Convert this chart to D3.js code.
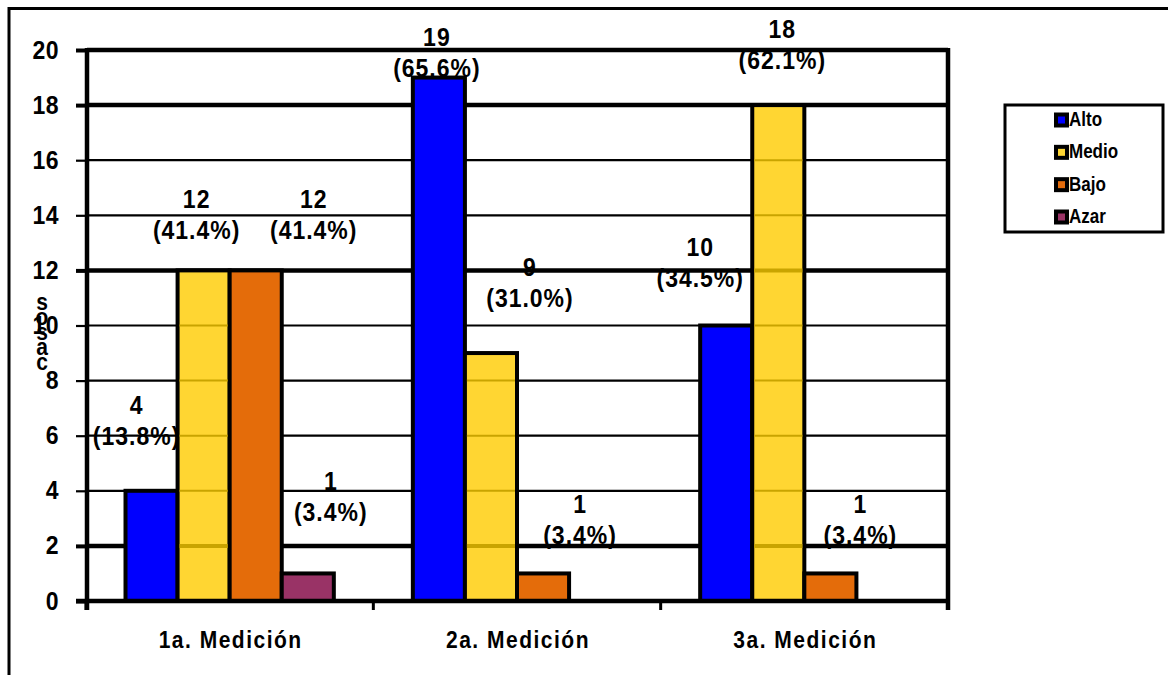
<!DOCTYPE html>
<html>
<head>
<meta charset="utf-8">
<script src="https://cdn.jsdelivr.net/npm/d3@7/dist/d3.min.js"></script>
<style>
  html, body { margin: 0; padding: 0; background: #fff; }
  svg { display: block; font-family: "Liberation Sans", Arial, sans-serif; font-weight: bold; }
</style>
</head>
<body>
<svg id="chart" width="1168" height="675"></svg>
<script>
// ---- data ----
const groups = ["1a. Medición", "2a. Medición", "3a. Medición"];
const seriesNames = ["Alto", "Medio", "Bajo", "Azar"];
const alto  = [4, 19, 10];
const medio = [12, 9, 18];
const bajo  = [12, 1, 1];
const azar  = [1, 0, 0];
const pctAlto  = ["(13.8%)", "(65.6%)", "(34.5%)"];
const pctMedio = ["(41.4%)", "(31.0%)", "(62.1%)"];
const pctBajo  = ["(41.4%)", "(3.4%)", "(3.4%)"];
const pctAzar  = ["(3.4%)", "", ""];
const yTicks = [0, 2, 4, 6, 8, 10, 12, 14, 16, 18, 20];
const yTitle = "casos";

// ---- style ----
const colors = { Alto: "#0000FF", Medio: "#FFD632", Bajo: "#E46C0A", Azar: "#993366" };
const thickGrid = new Set([20, 18, 12, 2]);
// label nudges (px) relative to bar centre / bar top, per series per group
const labelNudge = {
  Alto:  [[-15, -78], [-2, -33], [-26, -71]],
  Medio: [[-7, -63], [39, -78], [4, -68]],
  Bajo:  [[58, -63], [37, -61], [30, -61]],
  Azar:  [[23, -84], [0, 0], [0, 0]]
};

const values = { Alto: alto, Medio: medio, Bajo: bajo, Azar: azar };
const pcts = { Alto: pctAlto, Medio: pctMedio, Bajo: pctBajo, Azar: pctAzar };

const svg = d3.select("#chart");
const pLeft = 87, pRight = 948, pTop = 50, pBottom = 601;
const STRETCH = 1.16;

function tallText(parent, x, yy, str, size, anchor, spacing) {
  return parent.append("text")
    .attr("transform", `translate(${x},${yy}) scale(1,${STRETCH})`)
    .attr("text-anchor", anchor || "middle")
    .attr("font-size", size)
    .attr("letter-spacing", spacing || 0)
    .text(str);
}

const x0 = d3.scaleBand().domain(groups).range([86, pRight]).paddingInner(0.275).paddingOuter(0.1375);
const x1 = d3.scaleBand().domain(seriesNames).range([0, x0.bandwidth()]).padding(0);
const y = d3.scaleLinear().domain([0, 20]).range([pBottom, pTop]);

// outer frame
svg.append("rect").attr("x", 9).attr("y", 8.5).attr("width", 1300).attr("height", 800)
  .attr("fill", "none").attr("stroke", "#000").attr("stroke-width", 3);

// gridlines
svg.append("g").selectAll("line").data(yTicks.filter(d => d > 0)).join("line")
  .attr("x1", pLeft).attr("x2", pRight)
  .attr("y1", d => y(d)).attr("y2", d => y(d))
  .attr("stroke", "#000")
  .attr("stroke-width", d => thickGrid.has(d) ? 4.5 : 2.2);

// bars
const rows = [];
groups.forEach((g, gi) => seriesNames.forEach(s => rows.push({ g, gi, s, v: values[s][gi], p: pcts[s][gi] })));
const barRows = rows.filter(d => d.v > 0);

svg.append("g").selectAll("rect").data(barRows).join("rect")
  .attr("x", d => x0(d.g) + x1(d.s))
  .attr("width", x1.bandwidth())
  .attr("y", d => y(d.v))
  .attr("height", d => y(0) - y(d.v))
  .attr("fill", d => colors[d.s])
  .attr("stroke", "#000")
  .attr("stroke-width", 4);

// faint gridline show-through on the yellow bars
const yellowRows = barRows.filter(d => d.s === "Medio");
yellowRows.forEach(d => {
  const gl = yTicks.filter(t => t > 0 && t < d.v);
  svg.append("g").selectAll("line").data(gl).join("line")
    .attr("x1", x0(d.g) + x1(d.s) + 2).attr("x2", x0(d.g) + x1(d.s) + x1.bandwidth() - 2)
    .attr("y1", t => y(t)).attr("y2", t => y(t))
    .attr("stroke", "#C9A400").attr("stroke-width", t => thickGrid.has(t) ? 4 : 2);
});

// right border of plot
svg.append("line").attr("x1", pRight).attr("x2", pRight).attr("y1", pTop - 2).attr("y2", pBottom + 9)
  .attr("stroke", "#000").attr("stroke-width", 4.5);

// y axis
const yAxis = svg.append("g").attr("transform", `translate(${pLeft},0)`)
  .call(d3.axisLeft(y).tickValues(yTicks).tickSize(11).tickSizeOuter(0).tickFormat(""));
yAxis.select(".domain").attr("stroke-width", 4.5).attr("d", `M0,${pTop - 2}V${pBottom + 9}`);
yAxis.selectAll(".tick line").attr("stroke-width", d => thickGrid.has(d) || d === 0 ? 4 : 2.2);
const yLab = svg.append("g");
yTicks.forEach(t => tallText(yLab, 59, y(t) + 8.5, t, 23, "end", 0.5));

// x axis
svg.append("line").attr("x1", pLeft - 11).attr("x2", pRight).attr("y1", pBottom).attr("y2", pBottom)
  .attr("stroke", "#000").attr("stroke-width", 4.5);
const xBounds = [0, 1, 2, 3].map(i => 86 + i * x0.step());
svg.append("g").selectAll("line").data(xBounds).join("line")
  .attr("x1", d => d).attr("x2", d => d).attr("y1", pBottom).attr("y2", pBottom + 9)
  .attr("stroke", "#000").attr("stroke-width", 3);
const xLab = svg.append("g");
groups.forEach(g => tallText(xLab, x0(g) + x0.bandwidth() / 2 + 1, 648, g, 21, "middle", 1.5));

// y title: stacked letters, bottom to top
const yT = svg.append("g");
yTitle.split("").forEach((ch, i) => {
  tallText(yT, 42, 370 - i * 15, ch, 21, "middle", 0);
});

// data labels
const lab = svg.append("g");
barRows.forEach(d => {
  const nudge = labelNudge[d.s][d.gi];
  const cx = x0(d.g) + x1(d.s) + x1.bandwidth() / 2 + nudge[0];
  const by = y(d.v) + nudge[1] + 1;
  tallText(lab, cx, by, d.v, 23, "middle", 1);
  tallText(lab, cx, by + 31, d.p, 23, "middle", 1);
});

// legend
const lg = svg.append("g");
lg.append("rect").attr("x", 1005).attr("y", 105).attr("width", 158).attr("height", 127)
  .attr("fill", "#fff").attr("stroke", "#000").attr("stroke-width", 3);
const lgY = d3.scalePoint().domain(seriesNames).range([120, 217]);
seriesNames.forEach(s => {
  const cy = lgY(s);
  lg.append("rect").attr("x", 1056).attr("y", cy - 5.5).attr("width", 11).attr("height", 11)
    .attr("fill", colors[s]).attr("stroke", "#000").attr("stroke-width", 4);
  tallText(lg, 1069, cy + 6, s, 17, "start", 0);
});
</script>
</body>
</html>
